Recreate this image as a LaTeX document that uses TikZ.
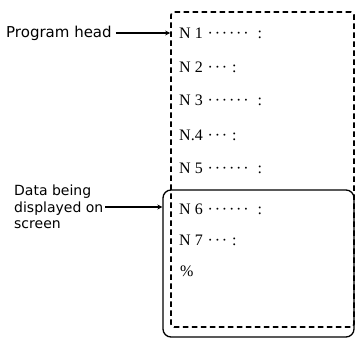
\documentclass[tikz,border=0pt]{standalone}
\usepackage{fontspec}
\setmainfont{Liberation Serif}
\newfontfamily\lblfont{DejaVu Sans}
\usetikzlibrary{arrows.meta}
\newcommand{\pd}{\kern0.9pt\textperiodcentered\kern0.9pt}
\begin{document}
\begin{tikzpicture}[x=1pt,y=1pt,
  lbl/.style={font=\lblfont\fontsize{14}{16.5}\selectfont, inner sep=0pt, align=left, anchor=west},
  codeline/.style={font=\fontsize{16}{16}\selectfont, inner sep=0pt, anchor=west},
  ptr/.style={line width=1.2pt, -{Stealth[length=5pt,width=5pt]}},
  membox/.style={draw, line width=1.6pt, dash pattern=on 5.5pt off 3.5pt, rounded corners=3pt, inner sep=0pt},
  scrbox/.style={draw, line width=1.3pt, rounded corners=8pt, inner sep=0pt}]
\useasboundingbox (0,0) rectangle (357,341);
\node[membox, minimum width=183pt, minimum height=315pt] (mem) at (262.5,171.5) {};
\node[scrbox, minimum width=191pt, minimum height=147pt] (scr) at (258.5,77.5) {};
\node[codeline] (n1) at (179,308) {N 1 \pd\pd\pd\pd\pd\pd\ \ :};
\node[codeline] (n2) at (179,274) {N 2 \pd\pd\pd\ :};
\node[codeline] (n3) at (179,241) {N 3 \pd\pd\pd\pd\pd\pd\ \ :};
\node[codeline] (n4) at (179,206) {N.4 \pd\pd\pd\ :};
\node[codeline] (n5) at (179,173) {N 5 \pd\pd\pd\pd\pd\pd\ \ :};
\node[codeline] (n6) at (179,132) {N 6 \pd\pd\pd\pd\pd\pd\ \ :};
\node[codeline] (n7) at (179,101) {N 7 \pd\pd\pd\ :};
\node[codeline] (pc) at (180,70) {\%};
\node[lbl, font=\lblfont\fontsize{15}{16.5}\selectfont] (head) at (6,308) {Program head};
\node[lbl] (data) at (14,134) {Data being\\displayed on\\screen};
\draw[ptr] ([xshift=4pt]head.east) -- (mem.west |- head.east);
\draw[ptr] ([xshift=2pt]data.east) -- (scr.west |- data.east);
\end{tikzpicture}
\end{document}
